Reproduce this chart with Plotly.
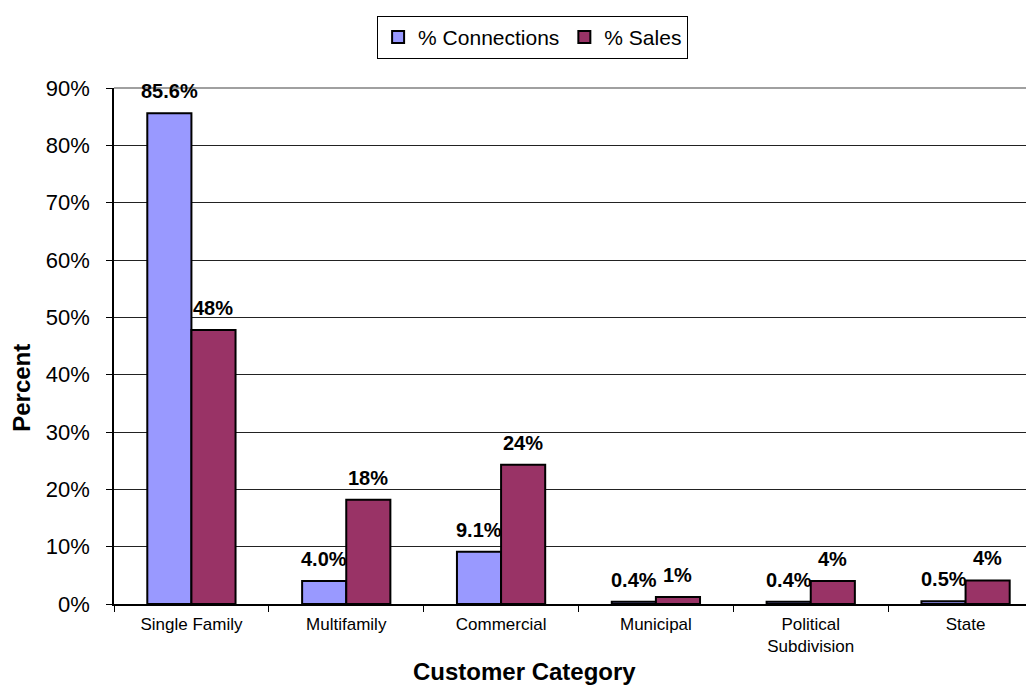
import plotly.graph_objects as go

categories = ["Single Family", "Multifamily", "Commercial", "Municipal", "Political<br>Subdivision", "State"]
connections = [85.6, 4.0, 9.1, 0.4, 0.4, 0.5]
sales = [47.8, 18.2, 24.3, 1.2, 4.0, 4.1]
connection_labels = ["85.6%", "4.0%", "9.1%", "0.4%", "0.4%", "0.5%"]
sales_labels = ["48%", "18%", "24%", "1%", "4%", "4%"]
y_ticks = [0, 10, 20, 30, 40, 50, 60, 70, 80, 90]
y_tick_labels = [f"{v}%" for v in y_ticks]

FONT = "Arial, Liberation Sans, sans-serif"
BAR_OFFSET_PX = 22

fig = go.Figure()
fig.add_trace(go.Bar(
    name="% Connections", x=categories, y=connections,
    marker=dict(color="#9999FF", line=dict(color="black", width=2)),
))
fig.add_trace(go.Bar(
    name="% Sales", x=categories, y=sales,
    marker=dict(color="#993366", line=dict(color="black", width=2)),
))

# value labels above each bar
for values, labels, shift in ((connections, connection_labels, -BAR_OFFSET_PX),
                              (sales, sales_labels, BAR_OFFSET_PX)):
    for cat, v, lab in zip(categories, values, labels):
        fig.add_annotation(
            x=cat, y=v, text=f"<b>{lab}</b>", showarrow=False,
            xshift=shift, yshift=9, yanchor="bottom", xanchor="center",
            font=dict(family=FONT, size=20, color="black"),
        )

# axis titles
fig.add_annotation(
    x=0.4457, y=-0.131, xref="paper", yref="paper", text="<b>Customer Category</b>",
    showarrow=False, xanchor="center", yanchor="middle",
    font=dict(family=FONT, size=24, color="black"),
)
fig.add_annotation(
    x=-0.1, y=0.419, xref="paper", yref="paper", text="<b>Percent</b>", textangle=-90,
    showarrow=False, xanchor="center", yanchor="middle",
    font=dict(family=FONT, size=24, color="black"),
)

# gray plot-area top border
fig.add_shape(type="line", xref="paper", yref="paper", x0=0, x1=1, y0=1, y1=1,
              line=dict(color="#808080", width=1.5))

fig.update_layout(
    width=1034, height=685,
    margin=dict(l=106, r=8, t=76, b=89),
    paper_bgcolor="white", plot_bgcolor="white",
    font=dict(family=FONT, color="black"),
    barmode="group", bargap=0.43, bargroupgap=0,
    showlegend=True,
    legend=dict(
        orientation="h", x=0.455, xanchor="center", y=1.14, yanchor="top",
        bordercolor="black", borderwidth=1, bgcolor="white",
        font=dict(family=FONT, size=21, color="black"),
        itemwidth=30, traceorder="normal",
    ),
    xaxis=dict(
        range=[-0.5, 5.442], showline=True, linecolor="black", linewidth=1.5,
        ticks="outside", tickson="boundaries", ticklen=6, tickcolor="black",
        tickfont=dict(family=FONT, size=17, color="black"),
        ticklabelstandoff=4,
        showgrid=False, automargin=False,
    ),
    yaxis=dict(
        range=[0, 90], tickvals=y_ticks, ticktext=y_tick_labels,
        showline=True, linecolor="black", linewidth=1.5,
        ticks="outside", ticklen=6, tickcolor="black",
        tickfont=dict(family=FONT, size=22, color="black"),
        ticklabelstandoff=12,
        showgrid=True, gridcolor="#222222", gridwidth=1,
        zeroline=False, automargin=False,
    ),
)

fig.write_html("out.html")
